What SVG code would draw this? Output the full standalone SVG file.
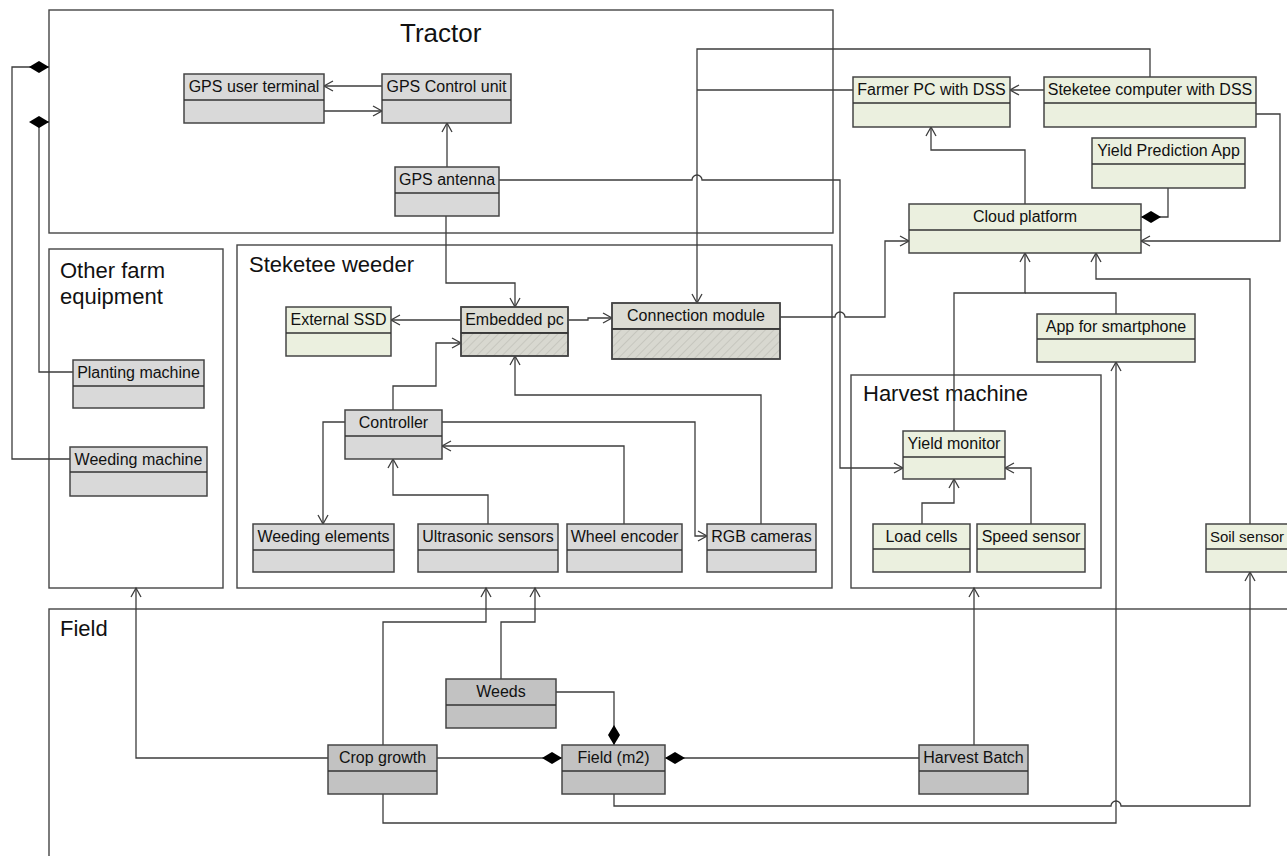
<svg xmlns="http://www.w3.org/2000/svg" width="1287" height="856" viewBox="0 0 1287 856">
<defs>
<style>
text{font-family:"Liberation Sans",Arial,sans-serif;fill:#111}
.cont{fill:none;stroke:#454545;stroke-width:1.4}
.title{font-size:22px}
.node rect{stroke:#454545;stroke-width:1.5}
.node line{stroke:#333;stroke-width:1.6}
.node text{font-size:16px;text-anchor:middle}
.gray rect{fill:#d9d9d9}
.dark rect{fill:#c2c2c2}
.green rect{fill:#ebf0df}
.hatch rect.h{fill:#dcdcd4}
.hatch rect.b{fill:url(#hatch)}
#connectors path{fill:none;stroke:#3c3c3c;stroke-width:1.3}
.arr{marker-end:url(#arrow)}
.dia{marker-end:url(#diamond)}
</style>
<pattern id="hatch" width="6" height="6" patternUnits="userSpaceOnUse" patternTransform="rotate(45)">
<rect width="6" height="6" fill="#d8d8d0"/>
<line x1="0" y1="0" x2="0" y2="6" stroke="#c6c6be" stroke-width="2"/>
</pattern>
<marker id="arrow" markerUnits="userSpaceOnUse" markerWidth="12" markerHeight="12" viewBox="0 0 12 12" refX="10" refY="6" orient="auto">
<path d="M1,1 L10,6 L1,11" fill="none" stroke="#3c3c3c" stroke-width="1.3"/>
</marker>
<marker id="diamond" markerUnits="userSpaceOnUse" markerWidth="20" markerHeight="12" viewBox="0 0 20 12" refX="20" refY="6" orient="auto">
<path d="M0,6 L10,0 L20,6 L10,12 Z" fill="#000"/>
</marker>
</defs>
<rect width="1287" height="856" fill="#fff"/>

<g id="containers">
<g id="c-tractor"><rect class="cont" x="49" y="10" width="784" height="223"/><text x="400" y="42" font-size="26">Tractor</text></g>
<g id="c-other"><rect class="cont" x="49" y="249" width="174" height="339"/><text class="title" x="60" y="278">Other farm</text><text class="title" x="60" y="304">equipment</text></g>
<g id="c-weeder"><rect class="cont" x="237" y="245" width="595" height="343"/><text class="title" x="249" y="272">Steketee weeder</text></g>
<g id="c-harvest"><rect class="cont" x="851" y="375" width="250" height="213"/><text class="title" x="863" y="401">Harvest machine</text></g>
<g id="c-field"><rect class="cont" x="49" y="609" width="1260" height="260"/><text class="title" x="60" y="636">Field</text></g>
</g>

<g id="connectors">
<path class="arr" d="M382,86 H324"/>
<path class="arr" d="M324,111 H382"/>
<path class="arr" d="M447,167 V123"/>
<path class="arr" d="M446,216 V283 H515 V307"/>
<path class="arr" d="M499,180 H692 a5,5 0 0 1 10,0 H840 V468 H903"/>
<path class="arr" d="M1150,77 V49 H697 V303"/>
<path d="M853,90 H697"/>
<path class="arr" d="M1044,90 H1010"/>
<path class="arr" d="M1025,204 V150 H931 V127"/>
<path class="dia" d="M1168,188 V217 H1141"/>
<path class="arr" d="M1256,114 H1280 V241 H1141"/>
<path class="arr" d="M780,317 H835 a5,5 0 0 1 10,0 H885 V241 H909"/>
<path class="arr" d="M461,320 H391"/>
<path class="arr" d="M568,320 H588 V318 H612"/>
<path class="arr" d="M393,410 V386 H436 V343 H461"/>
<path class="arr" d="M761,524 V395 H515 V356"/>
<path class="arr" d="M345,422 H323 V524"/>
<path class="arr" d="M442,422 H695 V536 H707"/>
<path class="arr" d="M624,524 V446 H442"/>
<path class="arr" d="M488,524 V495 H393 V459"/>
<path class="arr" d="M954,431 V293 H1025 V253"/>
<path d="M1116,314 V293 H1025"/>
<path class="arr" d="M1250,524 V279 H1096 V253"/>
<path class="arr" d="M922,524 V503 H954 V479"/>
<path class="arr" d="M1031,524 V468 H1005"/>
<path class="dia" d="M73,372 H39 V122 H49"/>
<path class="dia" d="M70,459 H12 V67 H49"/>
<path class="arr" d="M328,758 H136 V588"/>
<path class="arr" d="M383,745 V622 H486 V588"/>
<path class="arr" d="M501,679 V622 H535 V588"/>
<path class="dia" d="M556,692 H614 V745"/>
<path class="dia" d="M437,758 H562"/>
<path class="dia" d="M919,758 H665"/>
<path class="arr" d="M974,745 V588"/>
<path class="arr" d="M383,794 V823 H1116 V362"/>
<path class="arr" d="M614,794 V806 H1111 a5,5 0 0 1 10,0 H1250 V572"/>
</g>

<g id="nodes">
<g id="n-gps-user-terminal" class="node gray"><rect x="184" y="74" width="140" height="49"/><line x1="184" y1="100" x2="324" y2="100"/><text x="254" y="92">GPS user terminal</text></g>
<g id="n-gps-control-unit" class="node gray"><rect x="382" y="74" width="129" height="49"/><line x1="382" y1="100" x2="511" y2="100"/><text x="446.5" y="92">GPS Control unit</text></g>
<g id="n-gps-antenna" class="node gray"><rect x="395" y="167" width="104" height="49"/><line x1="395" y1="193" x2="499" y2="193"/><text x="447" y="185">GPS antenna</text></g>
<g id="n-planting-machine" class="node gray"><rect x="73" y="360" width="131" height="48"/><line x1="73" y1="386" x2="204" y2="386"/><text x="138.5" y="378">Planting machine</text></g>
<g id="n-weeding-machine" class="node gray"><rect x="70" y="447" width="137" height="49"/><line x1="70" y1="472" x2="207" y2="472"/><text x="138.5" y="465">Weeding machine</text></g>
<g id="n-external-ssd" class="node green"><rect x="286" y="307" width="105" height="49"/><line x1="286" y1="333" x2="391" y2="333"/><text x="338.5" y="325">External SSD</text></g>
<g id="n-embedded-pc" class="node hatch"><rect class="h" x="461" y="307" width="107" height="26"/><rect class="b" x="461" y="333" width="107" height="23"/><rect x="461" y="307" width="107" height="49" fill="none"/><line x1="461" y1="333" x2="568" y2="333"/><text x="514.5" y="325">Embedded pc</text></g>
<g id="n-connection-module" class="node hatch"><rect class="h" x="612" y="303" width="168" height="26"/><rect class="b" x="612" y="329" width="168" height="30"/><rect x="612" y="303" width="168" height="56" fill="none"/><line x1="612" y1="329" x2="780" y2="329"/><text x="696" y="321">Connection module</text></g>
<g id="n-controller" class="node gray"><rect x="345" y="410" width="97" height="49"/><line x1="345" y1="436" x2="442" y2="436"/><text x="393.5" y="428">Controller</text></g>
<g id="n-weeding-elements" class="node gray"><rect x="253" y="524" width="141" height="48"/><line x1="253" y1="550" x2="394" y2="550"/><text x="323.5" y="542">Weeding elements</text></g>
<g id="n-ultrasonic-sensors" class="node gray"><rect x="418" y="524" width="140" height="48"/><line x1="418" y1="550" x2="558" y2="550"/><text x="488" y="542">Ultrasonic sensors</text></g>
<g id="n-wheel-encoder" class="node gray"><rect x="567" y="524" width="115" height="48"/><line x1="567" y1="550" x2="682" y2="550"/><text x="624.5" y="542">Wheel encoder</text></g>
<g id="n-rgb-cameras" class="node gray"><rect x="707" y="524" width="109" height="48"/><line x1="707" y1="550" x2="816" y2="550"/><text x="761.5" y="542">RGB cameras</text></g>
<g id="n-farmer-pc" class="node green"><rect x="853" y="77" width="157" height="50"/><line x1="853" y1="103" x2="1010" y2="103"/><text x="931.5" y="95">Farmer PC with DSS</text></g>
<g id="n-steketee-computer" class="node green"><rect x="1044" y="77" width="212" height="50"/><line x1="1044" y1="103" x2="1256" y2="103"/><text x="1150" y="95">Steketee computer with DSS</text></g>
<g id="n-yield-prediction-app" class="node green"><rect x="1092" y="138" width="153" height="50"/><line x1="1092" y1="164" x2="1245" y2="164"/><text x="1168.5" y="156">Yield Prediction App</text></g>
<g id="n-cloud-platform" class="node green"><rect x="909" y="204" width="232" height="49"/><line x1="909" y1="230" x2="1141" y2="230"/><text x="1025" y="222">Cloud platform</text></g>
<g id="n-app-smartphone" class="node green"><rect x="1037" y="314" width="158" height="48"/><line x1="1037" y1="339" x2="1195" y2="339"/><text x="1116" y="332">App for smartphone</text></g>
<g id="n-yield-monitor" class="node green"><rect x="903" y="431" width="102" height="48"/><line x1="903" y1="457" x2="1005" y2="457"/><text x="954" y="449">Yield monitor</text></g>
<g id="n-load-cells" class="node green"><rect x="873" y="524" width="97" height="48"/><line x1="873" y1="549" x2="970" y2="549"/><text x="921.5" y="542">Load cells</text></g>
<g id="n-speed-sensor" class="node green"><rect x="977" y="524" width="108" height="48"/><line x1="977" y1="549" x2="1085" y2="549"/><text x="1031" y="542">Speed sensor</text></g>
<g id="n-soil-sensor" class="node green"><rect x="1206" y="524" width="90" height="48"/><line x1="1206" y1="549" x2="1296" y2="549"/><text x="1247" y="542" style="font-size:15px">Soil sensor</text></g>
<g id="n-weeds" class="node dark"><rect x="446" y="679" width="110" height="49"/><line x1="446" y1="705" x2="556" y2="705"/><text x="501" y="697">Weeds</text></g>
<g id="n-crop-growth" class="node dark"><rect x="328" y="745" width="109" height="49"/><line x1="328" y1="771" x2="437" y2="771"/><text x="382.5" y="763">Crop growth</text></g>
<g id="n-field-m2" class="node dark"><rect x="562" y="745" width="103" height="49"/><line x1="562" y1="771" x2="665" y2="771"/><text x="613.5" y="763">Field (m2)</text></g>
<g id="n-harvest-batch" class="node dark"><rect x="919" y="745" width="109" height="49"/><line x1="919" y1="771" x2="1028" y2="771"/><text x="973.5" y="763">Harvest Batch</text></g>
</g>
</svg>
